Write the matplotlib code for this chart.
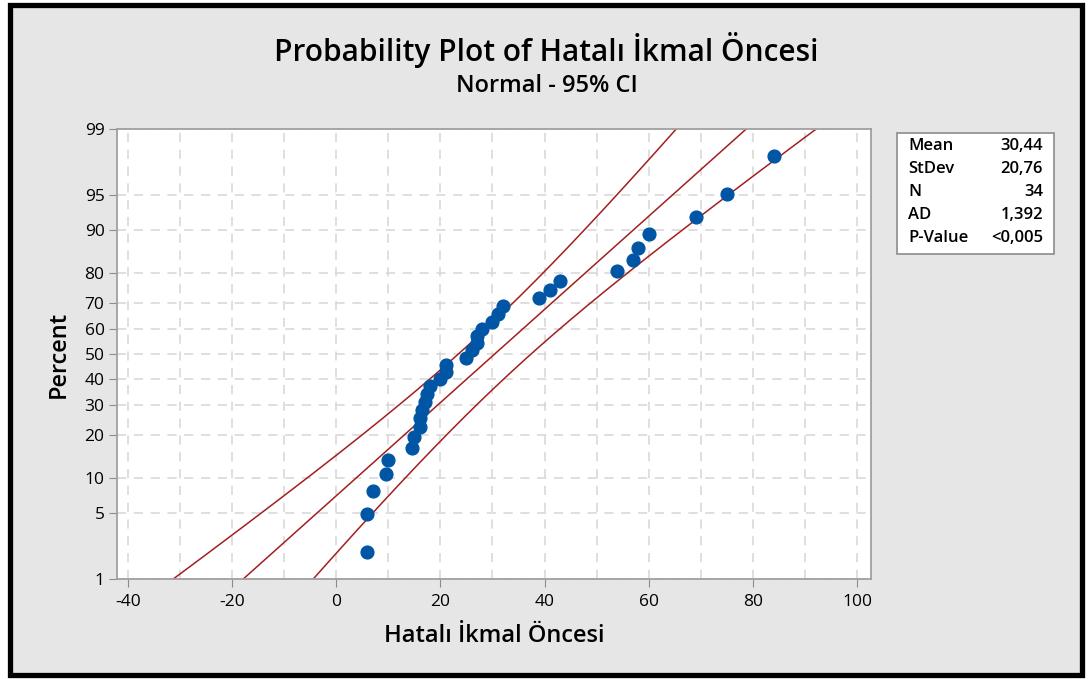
import matplotlib
matplotlib.use("Agg")
import matplotlib.pyplot as plt
from matplotlib.patches import Rectangle
from statistics import NormalDist
import numpy as np

plt.rcParams['font.family'] = ['Open Sans', 'DejaVu Sans']
plt.rcParams['axes.unicode_minus'] = False

# Data (sorted)
values = [6, 6, 7, 9.5, 10, 14.5, 15, 16, 16, 16.5, 17, 17.5, 18, 20, 21, 21,
          25, 26, 27, 27, 28, 30, 31, 32, 39, 41, 43, 54, 57, 58, 60, 69, 75, 84]

# Summary shown in the stats box
mean = 30.44
stdev = 20.76
stat_names = ["Mean", "StDev", "N", "AD", "P-Value"]
stat_values = ["30,44", "20,76", "34", "1,392", "<0,005"]

pct_ticks = [1, 5, 10, 20, 30, 40, 50, 60, 70, 80, 90, 95, 99]
x_ticks = [-40, -20, 0, 20, 40, 60, 80, 100]

nd = NormalDist()
n = len(values)
# median rank plotting positions
z_pts = [nd.inv_cdf((i - 0.3) / (n + 0.4)) for i in range(1, n + 1)]

# fitted line and 95% CI
pp = np.linspace(0.001, 0.999, 400)
zz = np.array([nd.inv_cdf(p) for p in pp])
fit = mean + stdev * zz
se = stdev * np.sqrt((1 + zz**2 / 2) / n)
lo = fit - 1.96 * se
hi = fit + 1.96 * se

W, H = 1088, 679
fig = plt.figure(figsize=(W / 100, H / 100), dpi=100, facecolor='white')
fig.patches.append(Rectangle((9.5 / W, 4.5 / H), (1081.5 - 9.5) / W, (674.5 - 4.5) / H,
                             transform=fig.transFigure, facecolor='#e6e6e6',
                             edgecolor='black', linewidth=3.8, zorder=-10))

ax = fig.add_axes([117 / W, 1 - 579 / H, 754 / W, 450 / H])
ax.set_facecolor('white')

red = '#a31f1f'
ax.plot(fit, zz, color=red, lw=1.1, zorder=2)
ax.plot(lo, zz, color=red, lw=1.1, zorder=2)
ax.plot(hi, zz, color=red, lw=1.1, zorder=2)
ax.plot(values, z_pts, 'o', color='#0055a4', markersize=9.2, zorder=3)

ax.set_xlim(-42.1, 102.7)
ax.set_ylim(nd.inv_cdf(0.01), nd.inv_cdf(0.99))
ax.set_xticks(x_ticks)
ax.set_xticks(np.arange(-30, 100, 20), minor=True)
ax.set_yticks([nd.inv_cdf(p / 100) for p in pct_ticks])
ax.set_yticklabels([str(p) for p in pct_ticks])
ax.grid(True, which='both', color='#d6d6d6', linestyle=(0, (6, 5)), lw=1.1, zorder=1)
ax.set_axisbelow(True)
ax.tick_params(which='major', length=6, color='#8c8c8c', labelsize=12.5, pad=3)
ax.tick_params(axis='x', which='major', pad=5)
ax.tick_params(which='minor', length=0)
for s in ax.spines.values():
    s.set_color('#a0a0a0')
    s.set_linewidth(1.3)

ax.set_xlabel("Hatalı İkmal Öncesi", fontsize=17, fontweight='semibold', labelpad=10)
ax.set_ylabel("Percent", fontsize=17, fontweight='semibold', labelpad=10)

fig.text(546 / W, 1 - 50 / H, "Probability Plot of Hatalı İkmal Öncesi",
         ha='center', va='center', fontsize=21.5, fontweight='semibold')
fig.text(547 / W, 1 - 86 / H, "Normal - 95% CI", ha='center', va='center',
         fontsize=17, fontweight='semibold')

# stats box
fig.patches.append(Rectangle((897 / W, 1 - 254 / H), 157 / W, 121 / H,
                             transform=fig.transFigure, facecolor='white',
                             edgecolor='#8c8c8c', linewidth=1.2, zorder=1))
for k, (nm, val) in enumerate(zip(stat_names, stat_values)):
    y = 1 - (146 + 23 * k) / H
    fig.text(908 / W, y, nm, ha='left', va='center', fontsize=12, fontweight='semibold')
    fig.text(1043 / W, y, val, ha='right', va='center', fontsize=12, fontweight='semibold')

fig.savefig("out.png", dpi=100, facecolor='white')
